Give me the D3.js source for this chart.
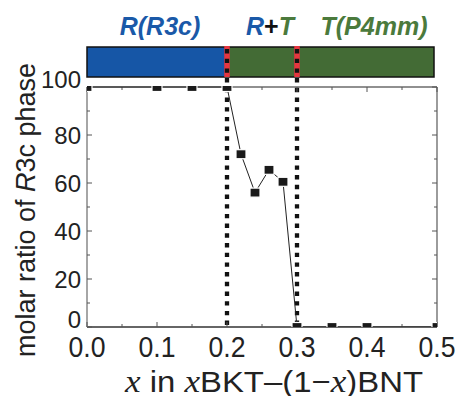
<!DOCTYPE html>
<html>
<head>
<meta charset="utf-8">
<script src="https://cdn.jsdelivr.net/npm/d3@7"></script>
<style>
  body { margin: 0; background: #fff; }
  svg { display: block; font-family: "Liberation Sans", Arial, sans-serif; }
</style>
</head>
<body>
<svg id="chart" width="459" height="396"></svg>
<script>
// composition x and molar ratio of R3c phase (%)
const xValues = [0.0, 0.1, 0.15, 0.2, 0.22, 0.24, 0.26, 0.28, 0.3, 0.35, 0.4, 0.5];
const r3cRatio = [100, 100, 100, 100, 72, 56, 65.5, 60.5, 0, 0, 0, 0];

const xTicks = [0.0, 0.1, 0.2, 0.3, 0.4, 0.5];
const yTicks = [0, 20, 40, 60, 80, 100];
const phaseBounds = [0.2, 0.3];
const phaseNames = ['R(R3c)', 'R+T', 'T(P4mm)'];

const blue = '#1656a6', green = '#436b35';
const blueText = '#1a59a8', greenText = '#4b7a3c';

const svg = d3.select('#chart');
const m = { left: 87, right: 437, top: 87, bottom: 327 };

const x = d3.scaleLinear().domain([0, 0.5]).range([m.left, m.right]);
const y = d3.scaleLinear().domain([0, 100]).range([m.bottom, m.top]);

// phase bar
const barTop = 47, barBot = 77;
const barRight = x(0.5) - 3;
svg.append('rect').attr('x', x(0)).attr('y', barTop)
  .attr('width', x(phaseBounds[0]) - x(0)).attr('height', barBot - barTop)
  .attr('fill', blue);
svg.append('rect').attr('x', x(phaseBounds[0])).attr('y', barTop)
  .attr('width', barRight - x(phaseBounds[0])).attr('height', barBot - barTop)
  .attr('fill', green);
svg.append('rect').attr('x', x(0)).attr('y', barTop)
  .attr('width', barRight - x(0)).attr('height', barBot - barTop)
  .attr('fill', 'none').attr('stroke', '#111').attr('stroke-width', 1.5);

phaseBounds.forEach(b => {
  svg.append('line').attr('x1', x(b)).attr('x2', x(b))
    .attr('y1', barTop - 1).attr('y2', barBot)
    .attr('stroke', '#e8353f').attr('stroke-width', 5.5);
  svg.append('line').attr('x1', x(b)).attr('x2', x(b))
    .attr('y1', barTop + 2).attr('y2', m.bottom)
    .attr('stroke', '#111').attr('stroke-width', 4.3)
    .attr('stroke-dasharray', '4.4,5.3');
});

// phase labels
const lbl = svg.append('g').attr('font-weight', 'bold').attr('font-style', 'italic')
  .attr('font-size', 25).attr('text-anchor', 'middle');
lbl.append('text').attr('x', 160).attr('y', 35).attr('fill', blueText).text(phaseNames[0]);
const rt = lbl.append('text').attr('x', 270).attr('y', 35);
rt.append('tspan').attr('fill', blueText).text('R');
rt.append('tspan').attr('fill', '#111').attr('font-style', 'normal').text('+');
rt.append('tspan').attr('fill', greenText).text('T');
lbl.append('text').attr('x', 374).attr('y', 35).attr('fill', greenText).text(phaseNames[2]);

// frame
const frame = svg.append('g').attr('fill', 'none');
frame.append('line').attr('x1', m.left).attr('x2', m.right).attr('y1', m.top).attr('y2', m.top)
  .attr('stroke', '#222').attr('stroke-width', 1.2);
frame.append('line').attr('x1', m.left).attr('x2', m.right).attr('y1', m.bottom).attr('y2', m.bottom)
  .attr('stroke', '#333').attr('stroke-width', 1.5);
frame.append('line').attr('x1', m.left).attr('x2', m.left).attr('y1', m.top).attr('y2', m.bottom)
  .attr('stroke', '#888').attr('stroke-width', 1.5);
frame.append('line').attr('x1', m.right).attr('x2', m.right).attr('y1', m.top).attr('y2', m.bottom)
  .attr('stroke', '#666').attr('stroke-width', 1.3);

// inward ticks (major + minor), mirrored
const tk = svg.append('g').attr('stroke', '#555').attr('stroke-width', 1);
d3.range(0, 0.5001, 0.05).forEach((v, i) => {
  const len = i % 2 === 0 ? 5 : 3;
  tk.append('line').attr('x1', x(v)).attr('x2', x(v)).attr('y1', m.bottom).attr('y2', m.bottom - len);
  tk.append('line').attr('x1', x(v)).attr('x2', x(v)).attr('y1', m.top).attr('y2', m.top + len);
});
d3.range(0, 100.01, 10).forEach((v, i) => {
  const len = i % 2 === 0 ? 5 : 3;
  tk.append('line').attr('x1', m.left).attr('x2', m.left + len).attr('y1', y(v)).attr('y2', y(v));
  tk.append('line').attr('x1', m.right).attr('x2', m.right - len).attr('y1', y(v)).attr('y2', y(v));
});

// tick labels
svg.append('g').attr('font-size', 29).attr('text-anchor', 'middle').attr('fill', '#222')
  .selectAll('text').data(xTicks).join('text')
  .attr('x', d => x(d)).attr('y', 357)
  .attr('textLength', 37).attr('lengthAdjust', 'spacingAndGlyphs')
  .text(d => d3.format('.1f')(d));

svg.append('g').attr('font-size', 24).attr('text-anchor', 'end').attr('fill', '#222')
  .selectAll('text').data(yTicks).join('text')
  .attr('x', 81)
  .attr('y', d => y(d) + ((d === 0 || d === 100) ? 1 : 8.5))
  .text(d => d);

// data
svg.append('clipPath').attr('id', 'plotclip').append('rect')
  .attr('x', m.left).attr('y', m.top - 1).attr('width', m.right - m.left).attr('height', m.bottom - m.top + 1);

const pts = xValues.map((v, i) => [v, r3cRatio[i]]);
const g = svg.append('g').attr('clip-path', 'url(#plotclip)');
g.append('path').datum(pts)
  .attr('d', d3.line().x(d => x(d[0])).y(d => y(d[1])))
  .attr('fill', 'none').attr('stroke', '#222').attr('stroke-width', 1);
g.selectAll('rect.pt').data(pts).join('rect').attr('class', 'pt')
  .attr('x', d => x(d[0]) - 5).attr('y', d => y(d[1]) - 4.5)
  .attr('width', 10).attr('height', 9)
  .attr('fill', '#1a1a1a').attr('stroke', '#fff').attr('stroke-width', 1.2);

// axis titles
const yt = svg.append('text').attr('transform', 'translate(35,210) rotate(-90)')
  .attr('text-anchor', 'middle').attr('font-size', 27).attr('fill', '#222');
yt.append('tspan').text('molar ratio of ');
yt.append('tspan').attr('font-style', 'italic').text('R');
yt.append('tspan').text('3c phase');

const xt = svg.append('text').attr('x', 274).attr('y', 392)
  .attr('text-anchor', 'middle').attr('font-size', 30).attr('fill', '#222')
  .attr('textLength', 298).attr('lengthAdjust', 'spacingAndGlyphs');
const ital = t => xt.append('tspan').attr('font-family', '"Liberation Serif", "Times New Roman", serif')
  .attr('font-style', 'italic').attr('font-size', 32).text(t);
ital('x');
xt.append('tspan').text(' in ');
ital('x');
xt.append('tspan').text('BKT–(1−');
ital('x');
xt.append('tspan').text(')BNT');
</script>
</body>
</html>
